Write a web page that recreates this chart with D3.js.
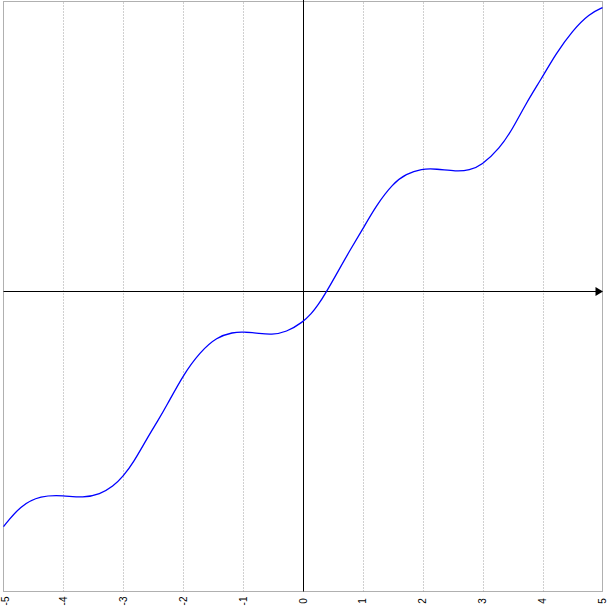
<!DOCTYPE html>
<html>
<head>
<meta charset="utf-8">
<script src="https://cdn.jsdelivr.net/npm/d3@7"></script>
<style>
    body { margin: 0; background: #fff; }
    svg { display: block; }
</style>
</head>
<body>
<div id="chart"></div>
<script>
// values
var xValues = [-5, -4.72, -4.38, -4, -3.67, -3.39, -3.17, -3, -2.83, -2.61, -2.42, -2.28, -2, -1.72, -1.44,
    -1.17, -1, -0.72, -0.53, -0.28, 0, 0.14, 0.25, 0.39, 0.61, 0.78, 1, 1.22, 1.5, 1.72, 1.98, 2.22, 2.56,
    2.78, 2.98, 3.28, 3.5, 3.72, 3.98, 4.22, 4.5, 4.78, 5];
var yValues = [-3.92, -3.57, -3.40, -3.40, -3.44, -3.38, -3.25, -3.08, -2.85, -2.46, -2.15, -1.91, -1.39, -1.01, -0.76,
    -0.68, -0.67, -0.70, -0.72, -0.68, -0.51, -0.37, -0.23, -0.01, 0.38, 0.68, 1.045, 1.43, 1.80, 1.96, 2.045, 2.045, 2.00,
    2.02, 2.10, 2.38, 2.71, 3.13, 3.545, 3.96, 4.35, 4.63, 4.73];
var xTicks = [-5, -4, -3, -2, -1, 0, 1, 2, 3, 4, 5];

var data = xValues.map(function (x, i) { return { x: x, y: yValues[i] }; });

var svg = d3.select("#chart").append("svg").attr("width", 614).attr("height", 613);

// plot area edges
var margin = { left: 3.5, right: 602.5, top: 1.5, bottom: 591.5 };

var x = d3.scaleLinear().domain([-5, 5]).range([margin.left, margin.right]);
var y = d3.scaleLinear().domain([-5, 4.833]).range([margin.bottom, margin.top]);

// frame
svg.append("rect")
    .attr("x", margin.left).attr("y", margin.top)
    .attr("width", margin.right - margin.left).attr("height", margin.bottom - margin.top)
    .attr("fill", "none").attr("stroke", "#b0b0b0").attr("stroke-width", 1);

// dotted grid
svg.append("g")
    .selectAll("line")
    .data(xTicks.filter(function (d) { return d !== 0 && Math.abs(d) !== 5; }))
    .enter().append("line")
    .attr("x1", function (d) { return Math.round(x(d)) + 0.5; })
    .attr("x2", function (d) { return Math.round(x(d)) + 0.5; })
    .attr("y1", margin.top + 1).attr("y2", margin.bottom)
    .attr("stroke", "#a0a0a0")
    .attr("stroke-dasharray", "1,2");

// tick labels, rotated
svg.append("g")
    .selectAll("text")
    .data(xTicks)
    .enter().append("text")
    .attr("transform", function (d) {
        var px = Math.min(Math.max(x(d), 5), 608);
        return "translate(" + px + ",601) rotate(-90)";
    })
    .attr("text-anchor", "middle")
    .attr("dominant-baseline", "central")
    .attr("font-family", "Liberation Sans, Arial, sans-serif")
    .attr("font-size", 10)
    .attr("fill", "#000")
    .text(function (d) { return d; });

// axes
var x0 = Math.round(x(0)) + 0.5;
var y0 = Math.round(y(0)) + 0.5;
svg.append("line")
    .attr("x1", x0).attr("x2", x0)
    .attr("y1", 0).attr("y2", margin.bottom)
    .attr("stroke", "#000");
svg.append("line")
    .attr("x1", margin.left).attr("x2", margin.right - 6)
    .attr("y1", y0).attr("y2", y0)
    .attr("stroke", "#000");
svg.append("path")
    .attr("d", "M" + (margin.right - 7) + "," + (y0 - 4.5) + "L" + (margin.right + 0.5) + "," + y0 +
        "L" + (margin.right - 7) + "," + (y0 + 4.5) + "Z")
    .attr("fill", "#000");

// curve
var line = d3.line()
    .x(function (d) { return x(d.x); })
    .y(function (d) { return y(d.y); })
    .curve(d3.curveBasis);

svg.append("path")
    .datum(data)
    .attr("d", line)
    .attr("fill", "none")
    .attr("stroke", "#0000ff")
    .attr("stroke-width", 1.3);
</script>
</body>
</html>
